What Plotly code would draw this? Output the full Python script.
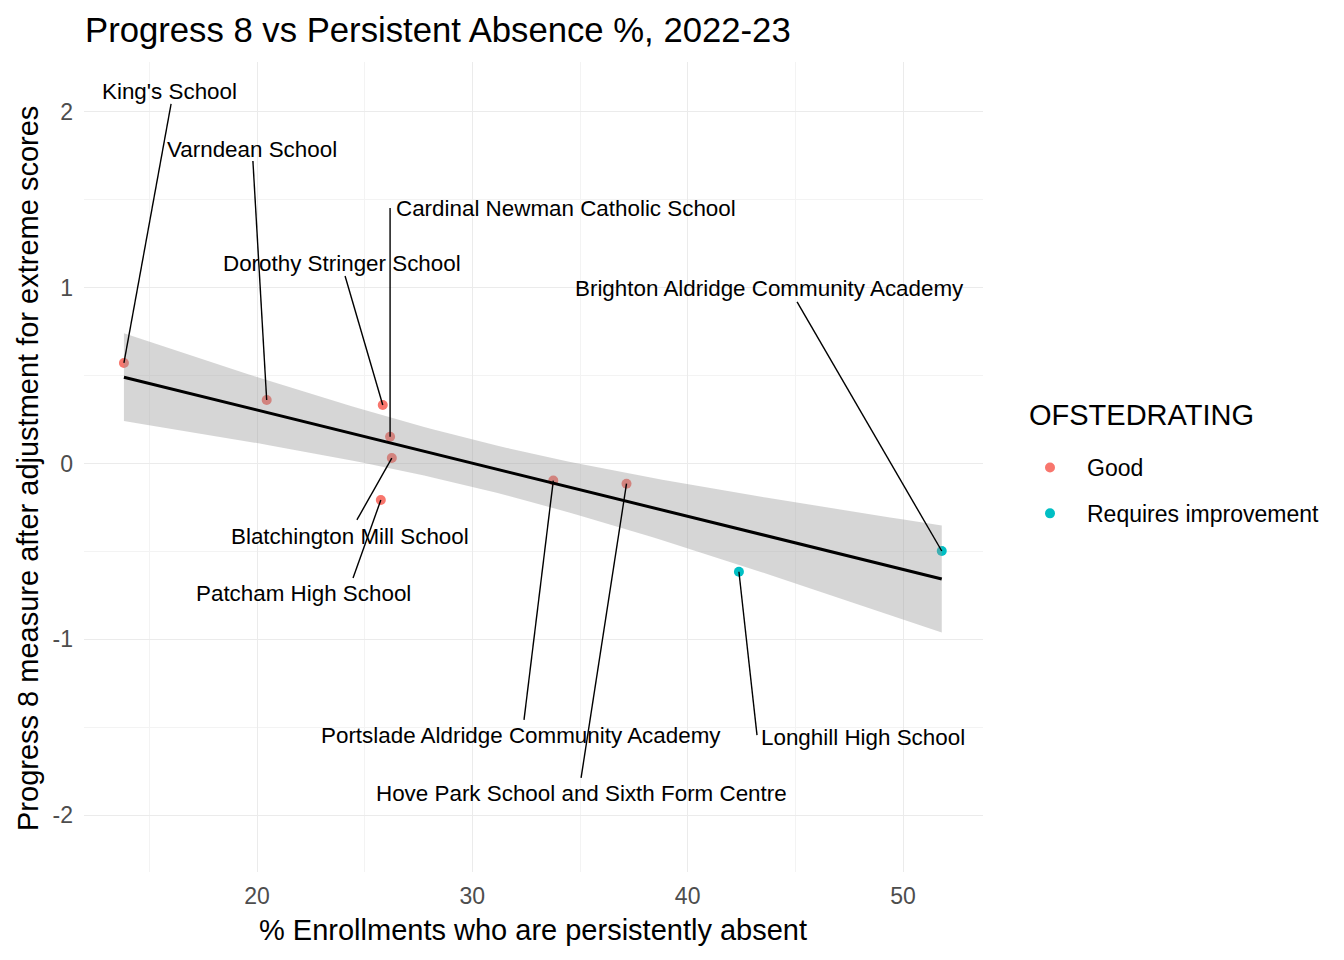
import numpy as np
import plotly.graph_objects as go

# ---------------- data ----------------
schools = ["King's School", "Varndean School", "Dorothy Stringer School",
           "Cardinal Newman Catholic School", "Blatchington Mill School",
           "Patcham High School", "Portslade Aldridge Community Academy",
           "Hove Park School and Sixth Form Centre", "Longhill High School",
           "Brighton Aldridge Community Academy"]
pct_absent = [13.82, 20.45, 25.84, 26.18, 26.26, 25.75, 33.76, 37.16, 42.38, 51.80]
progress8 = [0.572, 0.361, 0.333, 0.152, 0.031, -0.208, -0.097, -0.115, -0.616, -0.498]
ofsted = ["Good", "Good", "Good", "Good", "Good", "Good", "Good", "Good",
          "Requires improvement", "Requires improvement"]

# repelled label placement (centre of text) and segment end points
label_x = [15.94, 19.77, 23.97, 34.37, 24.34, 22.18, 32.28, 35.05, 48.12, 43.82]
label_y = [2.114, 1.789, 1.135, 1.448, -0.413, -0.737, -1.550, -1.875, -1.556, 0.993]
seg_x = [16.01, 19.81, 24.09, 26.18, 24.64, 24.46, 32.40, 35.05, 43.22, 45.08]
seg_y = [2.046, 1.721, 1.067, 1.454, -0.321, -0.651, -1.459, -1.789, -1.545, 0.919]

x_ticks = [20, 30, 40, 50]
x_tick_labels = ["20", "30", "40", "50"]
y_ticks = [-2, -1, 0, 1, 2]
y_tick_labels = ["-2", "-1", "0", "1", "2"]

colors = {"Good": "#F8766D", "Requires improvement": "#00BFC4"}
FONT = "Liberation Sans, Arial, sans-serif"

# page offset of the plot div (default body margin)
OFF = 8
PL, PR, PT, PB = 84, 983, 62, 872  # plot area in page pixels
PW, PH = PR - PL, PB - PT

fig = go.Figure()

# points
for i, cat in enumerate(["Good", "Requires improvement"]):
    xs = [x for x, c in zip(pct_absent, ofsted) if c == cat]
    ys = [y for y, c in zip(progress8, ofsted) if c == cat]
    fig.add_trace(go.Scatter(x=xs, y=ys, mode="markers", name=cat,
                             legendgroup=cat,
                             marker=dict(color=colors[cat], size=10),
                             hoverinfo="skip"))

# linear fit with 95% CI (as geom_smooth(method="lm"))
xa = np.array(pct_absent)
ya = np.array(progress8)
n = len(xa)
slope, intercept = np.polyfit(xa, ya, 1)
resid = ya - (slope * xa + intercept)
s = np.sqrt(np.sum(resid ** 2) / (n - 2))
sxx = np.sum((xa - xa.mean()) ** 2)
t_crit = 2.306004  # t(0.975, df=8)
xg = np.linspace(xa.min(), xa.max(), 80)
yg = slope * xg + intercept
se = s * np.sqrt(1.0 / n + (xg - xa.mean()) ** 2 / sxx)
lo = yg - t_crit * se
hi = yg + t_crit * se

fig.add_trace(go.Scatter(x=np.concatenate([xg, xg[::-1]]),
                         y=np.concatenate([hi, lo[::-1]]),
                         fill="toself", fillcolor="rgba(153,153,153,0.4)",
                         line=dict(width=0), mode="lines",
                         showlegend=False, hoverinfo="skip"))
fig.add_trace(go.Scatter(x=xg, y=yg, mode="lines",
                         line=dict(color="black", width=3),
                         showlegend=False, hoverinfo="skip"))

# label segments
sx, sy = [], []
for px, py, ex, ey in zip(pct_absent, progress8, seg_x, seg_y):
    sx += [px, ex, None]
    sy += [py, ey, None]
fig.add_trace(go.Scatter(x=sx, y=sy, mode="lines",
                         line=dict(color="black", width=1.4),
                         showlegend=False, hoverinfo="skip"))

annotations = []
for name, lx, ly in zip(schools, label_x, label_y):
    annotations.append(dict(x=lx, y=ly, xref="x", yref="y", text=name,
                            showarrow=False, xanchor="center", yanchor="middle",
                            font=dict(family=FONT, size=22.4, color="black")))

# axis titles
annotations.append(dict(x=(533 - PL) / PW, y=(PB - 930) / PH, xref="paper", yref="paper",
                        text="% Enrollments who are persistently absent", showarrow=False,
                        xanchor="center", yanchor="middle",
                        font=dict(family=FONT, size=29, color="black")))
annotations.append(dict(x=(28 - PL) / PW, y=(PB - 469) / PH, xref="paper", yref="paper",
                        text="Progress 8 measure after adjustment for extreme scores",
                        showarrow=False, textangle=-90,
                        xanchor="center", yanchor="middle",
                        font=dict(family=FONT, size=29, color="black")))
# legend title
annotations.append(dict(x=(1027 - PL) / PW, y=(PB - 415) / PH, xref="paper", yref="paper",
                        text="OFSTEDRATING", showarrow=False,
                        xanchor="left", yanchor="middle",
                        font=dict(family=FONT, size=29, color="black")))

fig.update_layout(
    width=1344, height=960,
    margin=dict(l=PL - OFF, r=1344 - PR + OFF, t=PT - OFF, b=960 - PB + OFF),
    paper_bgcolor="white", plot_bgcolor="white",
    font=dict(family=FONT),
    title=dict(text="Progress 8 vs Persistent Absence %, 2022-23",
               x=(85 - OFF) / 1344, xanchor="left", xref="container",
               y=1 - (30 - OFF) / 960, yanchor="middle", yref="container",
               font=dict(family=FONT, size=34.7, color="black")),
    annotations=annotations,
    legend=dict(font=dict(family=FONT, size=23, color="black"),
                x=(1013 - PL) / PW, xanchor="left",
                y=1 - (446 - PT) / PH, yanchor="top",
                tracegroupgap=13, itemwidth=64, bgcolor="rgba(0,0,0,0)"),
    showlegend=True,
)

fig.update_xaxes(range=[11.966, 53.715], tickvals=x_ticks, ticktext=x_tick_labels,
                 showgrid=True, gridcolor="#EBEBEB", gridwidth=1.2,
                 minor=dict(tickvals=[15, 25, 35, 45], showgrid=True,
                            gridcolor="#F3F3F3", gridwidth=0.8),
                 zeroline=False, showline=False, ticks="",
                 tickfont=dict(family=FONT, size=23, color="#4D4D4D"),
                 ticklabelstandoff=8)
fig.update_yaxes(range=[-2.324, 2.284], tickvals=y_ticks, ticktext=y_tick_labels,
                 showgrid=True, gridcolor="#EBEBEB", gridwidth=1.2,
                 minor=dict(tickvals=[-1.5, -0.5, 0.5, 1.5], showgrid=True,
                            gridcolor="#F3F3F3", gridwidth=0.8),
                 zeroline=False, showline=False, ticks="",
                 tickfont=dict(family=FONT, size=23, color="#4D4D4D"),
                 ticklabelstandoff=10)

fig.write_html("out.html")
